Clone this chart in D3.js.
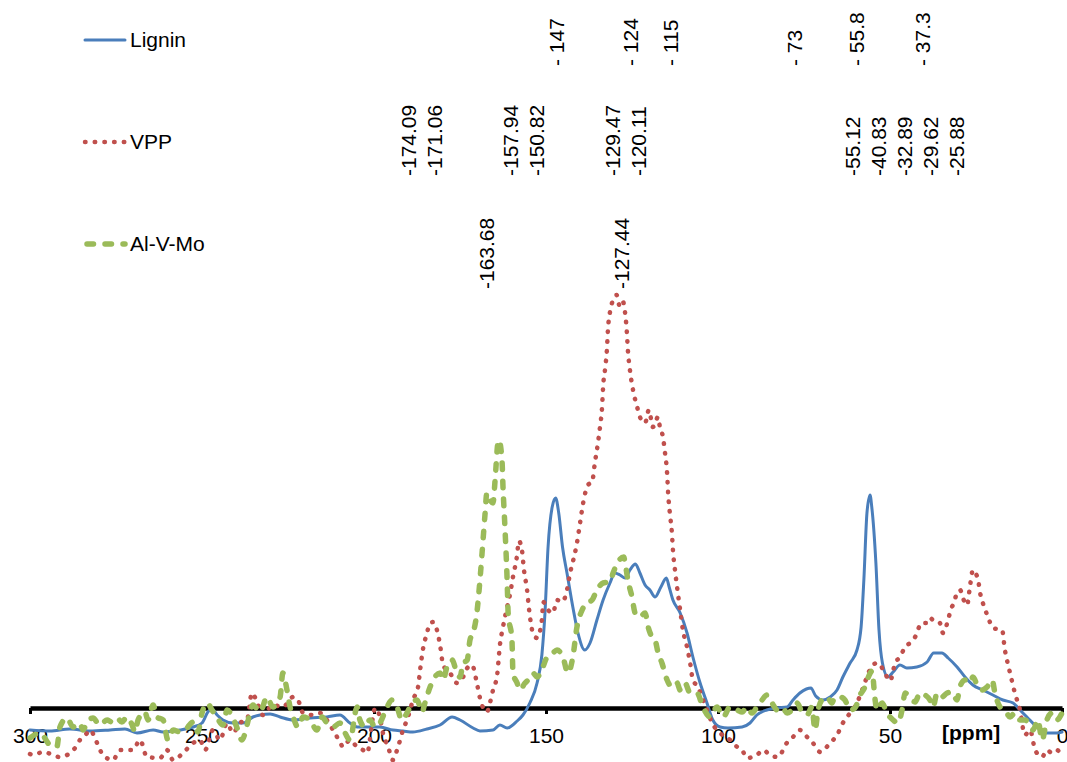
<!DOCTYPE html>
<html>
<head>
<meta charset="utf-8">
<script src="https://cdn.jsdelivr.net/npm/d3@7"></script>
<style>
  html, body { margin: 0; padding: 0; background: #fff; }
  svg { display: block; font-family: "Liberation Sans", Arial, sans-serif; }
</style>
</head>
<body>
<svg id="chart" width="1067" height="762"></svg>
<script>
// 13C NMR spectra: chemical shift [ppm] vs. relative intensity (arbitrary units)
const axisTicks = [300, 250, 200, 150, 100, 50, 0];

const lignin = [
  [300,-5.5],[294.2,-5.75],[288.4,-5.25],[282.6,-5.75],[276.7,-5.5],[272.4,-5.25],[268.9,-6.25],
  [264.2,-5.5],[261.3,-6],[256.4,-5.5],[252.6,-4.75],[250,-3.75],[248.3,-1],[247.1,-0.25],
  [245.6,-1.75],[243.9,-3],[241,-3.75],[238.1,-3.75],[235.2,-2.25],[233.1,-1.75],[230.2,-1.5],
  [227.3,-2.25],[223.5,-3],[218.6,-2.5],[213.7,-2.25],[209.9,-1.75],[207,-3.75],[204.9,-4.75],
  [201.2,-4.75],[198.3,-4.75],[194.5,-5.5],[191.6,-5.75],[188.7,-6],[184.6,-5.25],[180.8,-4.25],
  [177.3,-2.25],[175,-3],[171.2,-5],[169.2,-5.75],[165.4,-5.5],[163.4,-4.25],[161.3,-5],
  [158.4,-3.25],[156.7,-1.75],[154.7,1.25],[152.6,6.25],[151.2,13.25],[150.3,23.75],[149.4,40.25],
  [148.2,50.25],[147.2,52.5],[146.3,48.75],[145.2,40.25],[143.9,33.75],[142.2,25.25],[140.7,18.75],
  [138.7,14.5],[137.2,16.25],[135.2,22],[133.4,27],[131.4,31.25],[130,33.75],[128.5,33.25],
  [127,32.5],[125.6,34.5],[124,36],[122.7,33.75],[121.2,30.75],[119.8,29.5],[118.3,27.75],
  [116.6,30.25],[115,32.5],[114.2,30.25],[113.1,27],[111,23.75],[109,18.75],[107.3,12.75],
  [105.2,6.25],[103.2,1.25],[101.5,-3],[99.4,-4.75],[97.1,-5],[93,-4.75],[90.7,-3.75],
  [88.7,-1.75],[85.8,-0.5],[82.8,0],[79.9,0.25],[78.2,2],[76.2,3.75],[74.3,4.75],[73,5],
  [71.6,3],[69.5,2],[67.4,2.75],[65.4,4.5],[63.7,7.75],[61.6,11.25],[59.6,14.5],[58.4,20.25],
  [57.6,32],[56.7,48.75],[55.8,53.25],[55.3,50.25],[54.1,36.25],[53.2,19.5],[52.2,11.25],
  [50.6,7.75],[49.1,9],[47.1,10.75],[45.1,10],[42.2,10.25],[39.2,11.5],[37.3,13.75],[34.9,13.75],
  [33.1,12.5],[30.5,10.25],[28.2,7.75],[25.9,5.75],[23,4.5],[20.1,3.25],[17.2,2],[14.2,1.25],
  [12.2,-0.5],[10.2,-2.25],[7.3,-4.75],[4.4,-6.25],[1.5,-6.25],[0,-6]
];

const vpp = [
  [300,-11.5],[299.1,-11.75],[296.2,-11],[291.3,-12.25],[286.9,-10],[285.5,-8],[283.4,-6.25],
  [282.6,-5.5],[280.5,-8.75],[278.8,-11.75],[275.9,-13],[273.8,-10.5],[270.1,-10.5],[268,-8],
  [266,-12.25],[262.2,-12.5],[260.2,-10.5],[258.4,-13],[255.5,-11.25],[252.6,-8.75],[250.6,-8],
  [249.1,-10.5],[246.8,-5.5],[244.8,-8],[242.7,-3.75],[241,-6.25],[239,-3.75],[236.9,-3],
  [235.5,3.75],[234,1.5],[232.3,-1.75],[229.4,0.75],[226.5,0.25],[223.5,2.75],[222.1,2],
  [220.6,-1.25],[217.7,-1.75],[215.7,-1.25],[213.7,-3],[211.9,-5.5],[209.9,-8.5],[209,-9.75],
  [207,-8],[204.9,-9.75],[203.2,-10.5],[202,-11.25],[200.3,-2.25],[199.7,0],[198.3,-2.25],
  [197.4,-6.25],[195.9,-9.75],[194.5,-13],[193.3,-10.5],[192.4,-8],[191.6,-5.5],[190.4,-3],
  [189.5,-0.5],[188.7,2],[187.2,5.25],[186.6,9.5],[185.8,14.5],[184.6,18.75],[183.7,21.25],
  [182.8,21.5],[181.7,19.5],[180.8,15.75],[179.9,10.75],[177.9,8.75],[175.9,6.25],[174.1,7.75],
  [172.9,10],[171.5,10.75],[170.1,6.25],[169.2,2.5],[167.2,-1],[166.3,1.25],[165.4,4.5],
  [164.2,8.25],[163.4,15.75],[162.5,20.25],[161.3,25.25],[160.5,28.25],[159.6,32.75],[158.4,38.25],
  [157.9,41.75],[157,39.5],[156.4,34.5],[155.5,29.5],[154.9,24.5],[153.8,18.75],[152.6,17.5],
  [151.2,22],[150.8,26.5],[149.4,24.5],[148,23.75],[146.8,27],[145.3,26.5],[143.9,29.5],
  [143,33.75],[142.2,36.5],[141,41.25],[140.1,46.25],[139.2,51.25],[137.8,55.75],[136.6,56.5],
  [135.8,61.25],[134.9,66.25],[134.3,70.25],[133.7,75.25],[133.4,80.25],[132.8,85],[132.3,89.5],
  [132,94.5],[131.4,99],[130.5,102],[129.5,103.25],[128.5,100.25],[127.6,101.5],[127,98.75],
  [126.5,94],[126.2,89.5],[125.6,84.5],[124.7,79.5],[123.5,75.25],[122.7,72.75],[121.2,71.25],
  [120.1,74.5],[118.9,70.25],[117.4,72.75],[116.9,70.25],[116,67.75],[115.4,63.75],[114.8,58.75],
  [114.5,53.75],[114,48.75],[113.4,43.75],[113.1,39.5],[112.5,34.5],[111.9,30.25],[111,24.5],
  [110.2,19.5],[109,15.25],[108.1,11.25],[107.3,7],[105.8,5.25],[104.7,2.75],[103.2,-0.5],
  [101.7,-3.75],[99.4,-6.25],[96.5,-8],[94.4,-9.75],[93,-10.5],[91.6,-12.5],[88.7,-11.75],
  [86.9,-10.5],[84.9,-11.75],[82.6,-12.25],[80,-8.75],[78.2,-7.25],[76.2,-5.5],[74.1,-7.25],
  [72.4,-8.75],[70.3,-11],[67.4,-8.75],[65.4,-6.75],[63.7,-3.75],[61.6,-1.25],[59.6,1.25],
  [58.1,4.5],[56.7,7.75],[55.1,10.75],[53.5,11.25],[51.5,8.75],[50,6.75],[48.5,11.25],
  [47.1,12.75],[45.6,15.25],[44.2,16.25],[42.7,17.75],[40.8,21.25],[39.2,21.25],[38.4,22.5],
  [36.9,21.5],[35.5,21.25],[34.6,18.75],[32.9,22.75],[32.2,25],[31.7,25.75],[30.5,28.75],
  [29.6,29.5],[28.8,27.5],[27.6,25.75],[26.7,30.75],[25.9,34.5],[24.4,32],[23.8,28.75],
  [23,26.25],[21.5,22.75],[20.1,20],[17.4,19.5],[16.6,14.5],[16,12],[15.1,8.75],[13.7,3.75],
  [12.2,-0.5],[10.8,-6.75],[9.3,-5.5],[7.8,-10.5],[5.8,-12.25],[4.4,-10.5],[2.9,-11.25],
  [1.5,-10.5],[0,-12.25]
];

const alvmo = [
  [300,-7.5],[297.1,-6.25],[294.2,-9.25],[292.2,-9.75],[291.3,-4.75],[289.2,-2.5],[287.5,-4.75],
  [285.5,-3.75],[284.6,-5.5],[283.4,-3.5],[281.7,-2.5],[279.7,-4.25],[277.6,-3],[276.2,-3.5],
  [274.7,-2.5],[273.3,-3.5],[271.8,-2.25],[270.3,-4.25],[269.5,-6],[268.6,-3],[266.6,-1],
  [265.7,-3],[264.2,0.75],[263.1,-2.25],[261.3,-3],[259.9,-8],[258.4,-5.5],[256.4,-6],
  [254.4,-5],[252.6,-3.5],[251.2,-6],[250,-1.25],[248.5,1.25],[247.1,-0.5],[245.6,-2.5],
  [243.9,-4.25],[242.7,-0.5],[241,-2.5],[239.8,-5],[238.4,-8],[236.9,-4.25],[236,-1],
  [235.2,0.75],[233.1,-1],[231.1,2.75],[229.4,0.25],[227.3,2.75],[226.5,8.75],[225.3,4.5],
  [224.4,0.25],[223.5,-2.25],[222.1,-4.75],[220.6,-2.25],[218.6,-3],[216.6,-5.5],[215.1,-2.25],
  [213.7,-3.75],[211.9,-4.75],[209.9,-3.75],[208.4,-6.25],[207,-8],[204.9,0.25],[204.1,-3],
  [202.6,-4.75],[201.2,-3],[199.7,-4.75],[198.3,-3.75],[196.2,0.25],[194.8,2],[193.3,0.25],
  [191.9,-3],[190.4,-1.25],[189,1.25],[187.5,2],[186,-1],[185.2,1.25],[183.7,5.25],[182.3,7.75],
  [180.8,8.75],[179.9,7],[178.8,10.25],[177.3,12],[175.9,8.75],[175,7.75],[174.1,11.25],
  [172.9,12],[172.1,17],[171.2,18.75],[170.1,23.75],[169.2,32],[168.3,42],[167.7,48.75],
  [167.2,53.75],[166.3,52],[165.4,51.25],[164.8,57],[164,66.25],[163.7,67],[162.8,62],
  [162.5,55.25],[161.9,44.5],[161.3,32],[161,23.75],[159.9,17],[159.6,8.75],[158.4,6.25],
  [157.6,4.5],[156.1,6.25],[155.2,7],[153.8,8.75],[152.6,7.75],[150.9,10.25],[149.7,12.75],
  [148,13.75],[146.8,14.5],[145.1,12.75],[143.6,8.75],[142.2,12.75],[141,20.25],[139.5,24.5],
  [138.1,26.25],[136.6,27],[135.2,29.5],[133.4,31.25],[131.4,31.5],[130.5,33.75],[129.1,36.5],
  [127.4,37.75],[127,36.25],[126.2,32],[125,27.75],[124.1,23.75],[122.7,22.75],[121.2,23.75],
  [120.3,20.25],[119.2,17.75],[118.3,17],[117.4,13.75],[116.3,11.25],[114.8,7],[113.4,5.25],
  [111.9,6.25],[111,4.5],[109.6,6.25],[108.1,3.75],[106.1,3.75],[104.4,0.25],[102.3,-2.25],
  [100.3,0.25],[98.5,-2.25],[96.5,0.25],[94.4,-0.5],[93,-1],[91.6,0.25],[90.1,-1.25],
  [88.7,0.25],[87.2,2],[85.8,3.25],[84.3,1.25],[82.8,-0.5],[81.4,0.25],[79.9,-1.25],[78.5,-0.5],
  [77,1.25],[75.6,-1],[74.1,-1.75],[72.7,0.25],[71.8,-5.5],[70.9,-0.5],[69.8,2],[68.3,2.75],
  [66.9,1.25],[66,2.75],[64.5,2.75],[63.1,2],[61.6,-0.5],[60.2,0],[58.7,3.25],[57.3,5.25],
  [56.4,7.5],[55.2,9.25],[54.4,2.5],[53.8,-0.5],[52.3,1.25],[50.9,-1.25],[49.1,-3],[47.7,-3.75],
  [46.5,-0.5],[45.6,3.75],[44.2,2.75],[42.7,1.5],[41.3,3.75],[39.8,3.25],[38.4,2],[37.5,0.25],
  [36.3,3.75],[34.9,2.75],[33.4,3.75],[32,4],[30.5,2],[29.7,5.25],[28.2,7],[26.7,6.25],
  [25.9,7.75],[24.4,5.25],[23.3,4.5],[21.8,5.25],[20.3,7],[19.5,3.75],[18,0.25],[16.6,-0.5],
  [15.1,-2.25],[13.7,-1.25],[12.2,-3],[10.8,-3],[9.3,-4.25],[8.4,-5.5],[7,-3],[5.8,-8],
  [4.4,-3],[2.9,-1.25],[1.5,-3],[0,-1.25]
];

// peak assignments, grouped as rotated text blocks; "at" is the ppm position of the first line
const ligninLabels = [
  { lines: ["- 147"], at: 146.8 },
  { lines: ["- 124"], at: 125.3 },
  { lines: ["- 115"], at: 113.9 },
  { lines: ["- 73"], at: 77.6 },
  { lines: ["- 55.8"], at: 59.6 },
  { lines: ["- 37.3"], at: 40.4 }
];
const vppLabels = [
  { lines: ["-174.09", "-171.06"], at: 189.8 },
  { lines: ["-157.94", "-150.82"], at: 160.2 },
  { lines: ["-129.47", "-120.11"], at: 130.5 },
  { lines: ["-55.12", "-40.83", "-32.89", "-29.62", "-25.88"], at: 61.0 }
];
const alvmoLabels = [
  { lines: ["-163.68"], at: 167.4 },
  { lines: ["-127.44"], at: 127.9 }
];

const seriesNames = ["Lignin", "VPP", "Al-V-Mo"];

// ---------- drawing ----------
const svg = d3.select("#chart");
const W = 1067, H = 762;
const FONT = 21;

const x = d3.scaleLinear().domain([300, 0]).range([30, 1062]);
const y = d3.scaleLinear().domain([0, 100]).range([708, 308]);

const styles = [
  { color: "#4A7EBB", width: 3, dash: null, cap: "round" },
  { color: "#C0504D", width: 4.5, dash: "0.5,9.2", cap: "round" },
  { color: "#9BBB59", width: 5.5, dash: "6.5,11.5", cap: "round" }
];

svg.append("rect").attr("width", W).attr("height", H).attr("fill", "#fff");

// x axis (reversed ppm scale)
const axis = d3.axisBottom(x).tickValues(axisTicks).tickFormat(d3.format("d"))
  .tickSize(6).tickSizeOuter(0).tickPadding(14);
const gAxis = svg.append("g").attr("transform", "translate(0,708)").call(axis);
gAxis.select(".domain").attr("stroke", "#000").attr("stroke-width", 4.5);
gAxis.selectAll(".tick line").attr("stroke", "#000").attr("stroke-width", 3);
gAxis.selectAll(".tick text").attr("fill", "#000")
  .style("font-size", FONT + "px").style("font-family", '"Liberation Sans", Arial, sans-serif');

svg.append("text").attr("x", 942).attr("y", 740)
  .attr("font-size", FONT).attr("font-weight", "bold").attr("fill", "#000")
  .text("[ppm]");

// spectra
const line = d3.line().x(d => x(d[0])).y(d => y(d[1])).curve(d3.curveMonotoneX);
[lignin, vpp, alvmo].forEach((data, i) => {
  const s = styles[i];
  svg.append("path").datum(data)
    .attr("fill", "none")
    .attr("stroke", s.color)
    .attr("stroke-width", s.width)
    .attr("stroke-linecap", s.cap)
    .attr("stroke-linejoin", "round")
    .attr("stroke-dasharray", s.dash)
    .attr("d", line);
});

// legend
const legendY = [40, 142, 244];
seriesNames.forEach((name, i) => {
  const s = styles[i];
  const g = svg.append("g").attr("transform", `translate(0,${legendY[i]})`);
  g.append("line")
    .attr("x1", i === 2 ? 87 : 85).attr("x2", i === 1 ? 125 : 125)
    .attr("y1", 0).attr("y2", 0)
    .attr("stroke", s.color).attr("stroke-width", s.width)
    .attr("stroke-linecap", s.cap).attr("stroke-dasharray", s.dash);
  g.append("text").attr("x", 130).attr("y", 0).attr("dy", "0.35em")
    .attr("font-size", FONT).attr("fill", "#000").text(name);
});

// rotated peak labels
function drawLabels(groups, baseY) {
  groups.forEach(grp => {
    const g = svg.append("g")
      .attr("transform", `translate(${x(grp.at)},${baseY}) rotate(-90)`);
    grp.lines.forEach((t, k) => {
      g.append("text")
        .attr("x", 0).attr("y", k * 26)
        .attr("dy", "0.35em")
        .attr("font-size", FONT).attr("fill", "#000")
        .text(t);
    });
  });
}
drawLabels(ligninLabels, 66);
drawLabels(vppLabels, 176);
drawLabels(alvmoLabels, 289);
</script>
</body>
</html>
